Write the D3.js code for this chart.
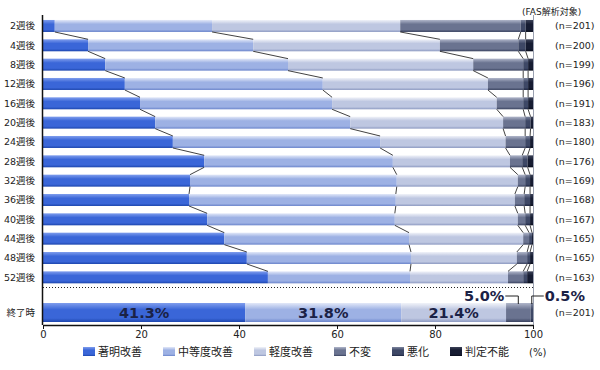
<!DOCTYPE html>
<html>
<head>
<meta charset="utf-8">
<script src="https://cdn.jsdelivr.net/npm/d3@7"></script>
<style>
  body { margin: 0; background: #fff; }
  svg { display: block; }
</style>
</head>
<body>
<div id="chartDiv"></div>
<script>
// --- data (percent of patients per category) ---
var weeks = ["2週後","4週後","8週後","12週後","16週後","20週後","24週後","28週後","32週後","36週後","40週後","44週後","48週後","52週後"];
var nCounts = [201,200,199,196,191,183,180,176,169,168,167,165,165,163];
var categories = ["著明改善","中等度改善","軽度改善","不変","悪化","判定不能"];

var marked       = [2.4, 9.2, 12.7, 16.7, 19.8, 22.9, 26.5, 32.9, 30.0, 29.8, 33.5, 37.0, 41.6, 45.9];
var moderate     = [32.1, 33.7, 37.3, 40.4, 39.2, 39.8, 42.3, 38.5, 42.2, 42.2, 38.3, 37.7, 33.5, 29.0];
var mild         = [38.4, 38.1, 37.8, 33.7, 33.6, 31.2, 25.6, 23.9, 24.7, 24.3, 25.1, 23.3, 21.6, 20.0];
var unchanged    = [24.6, 16.0, 10.2, 7.2, 5.4, 4.5, 4.0, 2.5, 1.5, 1.9, 1.5, 1.2, 2.1, 3.1];
var worse        = [1.0, 1.5, 1.0, 1.0, 1.0, 1.1, 1.0, 1.1, 1.0, 1.2, 1.0, 0.6, 0.6, 0.8];
var undetermined = [1.5, 1.5, 1.0, 1.0, 1.0, 0.5, 0.6, 1.1, 0.6, 0.6, 0.6, 0.2, 0.6, 1.2];

var finalLabel = "終了時";
var finalN = 201;
var finalValues = [41.3, 31.8, 21.4, 5.0, 0.5, 0];

var xTicks = [0, 20, 40, 60, 80, 100];

// --- layout ---
var width = 600, height = 370;
var x0 = 43, x1 = 533;
var latin = "'DejaVu Sans', 'Noto Sans CJK JP', sans-serif";
var cjk = "'Noto Sans CJK JP', sans-serif";

var colors = [
  ["#7f9ded", "#3a66d8", "#1c45ad"],
  ["#e2e8f8", "#9db1e4", "#6a84cb"],
  ["#f1f3f9", "#bec7e1", "#8c99c1"],
  ["#b0b6ca", "#6a7390", "#39425f"],
  ["#7d859e", "#3e4866", "#1c2440"],
  ["#3c4258", "#161c32", "#070b1a"]
];

var rows = weeks.map((w, i) => ({
  label: w,
  n: nCounts[i],
  "著明改善": marked[i],
  "中等度改善": moderate[i],
  "軽度改善": mild[i],
  "不変": unchanged[i],
  "悪化": worse[i],
  "判定不能": undetermined[i]
}));
var finalRow = { label: finalLabel, n: finalN };
categories.forEach((c, k) => finalRow[c] = finalValues[k]);

var stack = d3.stack().keys(categories);
var series = stack(rows);
var finalSeries = stack([finalRow]);

var x = d3.scaleLinear().domain([0, 100]).range([x0, x1]);
var y = d3.scaleBand().domain(weeks).range([16.3, 287]).paddingInner(0.38).paddingOuter(0.19);
var finalY = 303, finalH = 19;
var axisY = 325;

var svg = d3.select("#chartDiv")
  .append("svg")
    .attr("width", width)
    .attr("height", height)
    .attr("viewBox", [0, 0, width, height]);

var defs = svg.append("defs");
colors.forEach((c, k) => {
  var g = defs.append("linearGradient")
      .attr("id", "grad" + k)
      .attr("x1", 0).attr("y1", 0).attr("x2", 0).attr("y2", 1);
  g.append("stop").attr("offset", "0%").attr("stop-color", c[0]);
  g.append("stop").attr("offset", "35%").attr("stop-color", c[1]);
  g.append("stop").attr("offset", "80%").attr("stop-color", c[1]);
  g.append("stop").attr("offset", "100%").attr("stop-color", c[2]);
});

// right edge
svg.append("line")
  .attr("x1", x1 + 0.5).attr("x2", x1 + 0.5)
  .attr("y1", 15).attr("y2", axisY)
  .attr("stroke", "#9aa0b0").attr("stroke-width", 1);

// bars
svg.append("g")
  .selectAll("g")
  .data(series)
  .join("g")
    .attr("fill", (d, k) => `url(#grad${k})`)
  .selectAll("rect")
  .data(d => d)
  .join("rect")
    .attr("x", d => x(d[0]))
    .attr("y", d => y(d.data.label))
    .attr("width", d => Math.max(0, x(d[1]) - x(d[0])))
    .attr("height", y.bandwidth());

// connector lines between rows
var links = [];
for (var k = 0; k < categories.length - 1; k++) {
  for (var i = 0; i < weeks.length - 1; i++) {
    links.push({
      xa: x(series[k][i][1]), ya: y(weeks[i]) + y.bandwidth(),
      xb: x(series[k][i + 1][1]), yb: y(weeks[i + 1])
    });
  }
}
svg.append("g")
  .selectAll("line")
  .data(links)
  .join("line")
    .attr("x1", d => d.xa).attr("y1", d => d.ya)
    .attr("x2", d => d.xb).attr("y2", d => d.yb)
    .attr("stroke", "#111")
    .attr("stroke-width", 0.8);

// dotted separator
svg.append("line")
  .attr("x1", x0).attr("x2", x1)
  .attr("y1", 287.5).attr("y2", 287.5)
  .attr("stroke", "#222")
  .attr("stroke-width", 1)
  .attr("stroke-dasharray", "1,2");

// final bar
svg.append("g")
  .selectAll("rect")
  .data(finalSeries)
  .join("rect")
    .attr("fill", (d, k) => `url(#grad${k})`)
    .attr("x", d => x(d[0][0]))
    .attr("y", finalY)
    .attr("width", d => Math.max(0, x(d[0][1]) - x(d[0][0])))
    .attr("height", finalH);

// big labels inside final bar
svg.append("g")
  .selectAll("text")
  .data(finalSeries.slice(0, 3))
  .join("text")
    .attr("x", d => x((d[0][0] + d[0][1]) / 2))
    .attr("y", finalY + finalH / 2)
    .attr("dy", "0.36em")
    .attr("text-anchor", "middle")
    .style("font", `bold 14.5px ${latin}`)
    .attr("fill", "#1b2246")
    .text(d => finalValues[categories.indexOf(d.key)].toFixed(1) + "%");

// callout labels above final bar
var calloutY = 296;
var c1 = x((finalSeries[3][0][0] + finalSeries[3][0][1]) / 2);
var c2 = x((finalSeries[4][0][0] + finalSeries[4][0][1]) / 2);
svg.append("path")
  .attr("d", `M${c1 - 13},${calloutY}H${c1}V${finalY + 1}`)
  .attr("fill", "none").attr("stroke", "#222").attr("stroke-width", 1);
svg.append("path")
  .attr("d", `M${c2 + 12},${calloutY}H${c2}V${finalY + 1}`)
  .attr("fill", "none").attr("stroke", "#222").attr("stroke-width", 1);
svg.append("text")
  .attr("x", c1 - 14).attr("y", calloutY).attr("dy", "0.36em")
  .attr("text-anchor", "end")
  .style("font", `bold 14.5px ${latin}`)
  .attr("fill", "#1b2246")
  .text(finalValues[3].toFixed(1) + "%");
svg.append("text")
  .attr("x", c2 + 13).attr("y", calloutY).attr("dy", "0.36em")
  .style("font", `bold 14.5px ${latin}`)
  .attr("fill", "#1b2246")
  .text(finalValues[4].toFixed(1) + "%");

// row labels
svg.append("g")
  .selectAll("text")
  .data(weeks)
  .join("text")
    .attr("x", 35)
    .attr("y", d => y(d) + y.bandwidth() / 2)
    .attr("dy", "0.36em")
    .attr("text-anchor", "end")
    .style("font", `9.5px ${latin}`)
    .attr("fill", "#222")
    .text(d => d);
svg.append("text")
  .attr("x", 35).attr("y", finalY + finalH / 2).attr("dy", "0.36em")
  .attr("text-anchor", "end")
  .style("font", `9.5px ${cjk}`)
  .attr("fill", "#222")
  .text(finalLabel);

// n labels
svg.append("text")
  .attr("x", 522).attr("y", 12).attr("dy", "0.36em")
  .style("font", `9px ${latin}`)
  .attr("fill", "#222")
  .text("(FAS解析対象)");
svg.append("g")
  .selectAll("text")
  .data(rows)
  .join("text")
    .attr("x", 555)
    .attr("y", d => y(d.label) + y.bandwidth() / 2)
    .attr("dy", "0.36em")
    .style("font", `9.5px ${latin}`)
    .attr("fill", "#222")
    .text(d => `(n=${d.n})`);
svg.append("text")
  .attr("x", 555).attr("y", finalY + finalH / 2).attr("dy", "0.36em")
  .style("font", `9.5px ${latin}`)
  .attr("fill", "#222")
  .text(`(n=${finalN})`);

// axes
svg.append("line")
  .attr("x1", x0 - 0.5).attr("x2", x0 - 0.5)
  .attr("y1", 15).attr("y2", axisY)
  .attr("stroke", "#111").attr("stroke-width", 1.5);

var xAxis = svg.append("g")
  .attr("transform", `translate(0,${axisY})`)
  .call(d3.axisBottom(x).tickValues(xTicks).tickSize(4).tickSizeOuter(0));
xAxis.select(".domain").attr("stroke", "#111").attr("stroke-width", 1.5);
xAxis.selectAll(".tick line").attr("stroke", "#111");
xAxis.selectAll(".tick text")
  .style("font", `10px ${latin}`)
  .attr("fill", "#222")
  .attr("y", 6);

// legend
var legend = svg.append("g").attr("transform", "translate(83,352)");
var lx = 0;
categories.forEach((c, k) => {
  legend.append("rect")
    .attr("x", lx).attr("y", -5)
    .attr("width", 12).attr("height", 9)
    .attr("fill", `url(#grad${k})`);
  var t = legend.append("text")
    .attr("x", lx + 15).attr("y", 0).attr("dy", "0.36em")
    .style("font", `11px ${cjk}`)
    .attr("fill", "#222")
    .text(c);
  lx += 15 + t.node().getComputedTextLength() + 21;
});
svg.append("text")
  .attr("x", 529).attr("y", 352).attr("dy", "0.36em")
  .style("font", `10px ${latin}`)
  .attr("fill", "#222")
  .text("(%)");
</script>
</body>
</html>
